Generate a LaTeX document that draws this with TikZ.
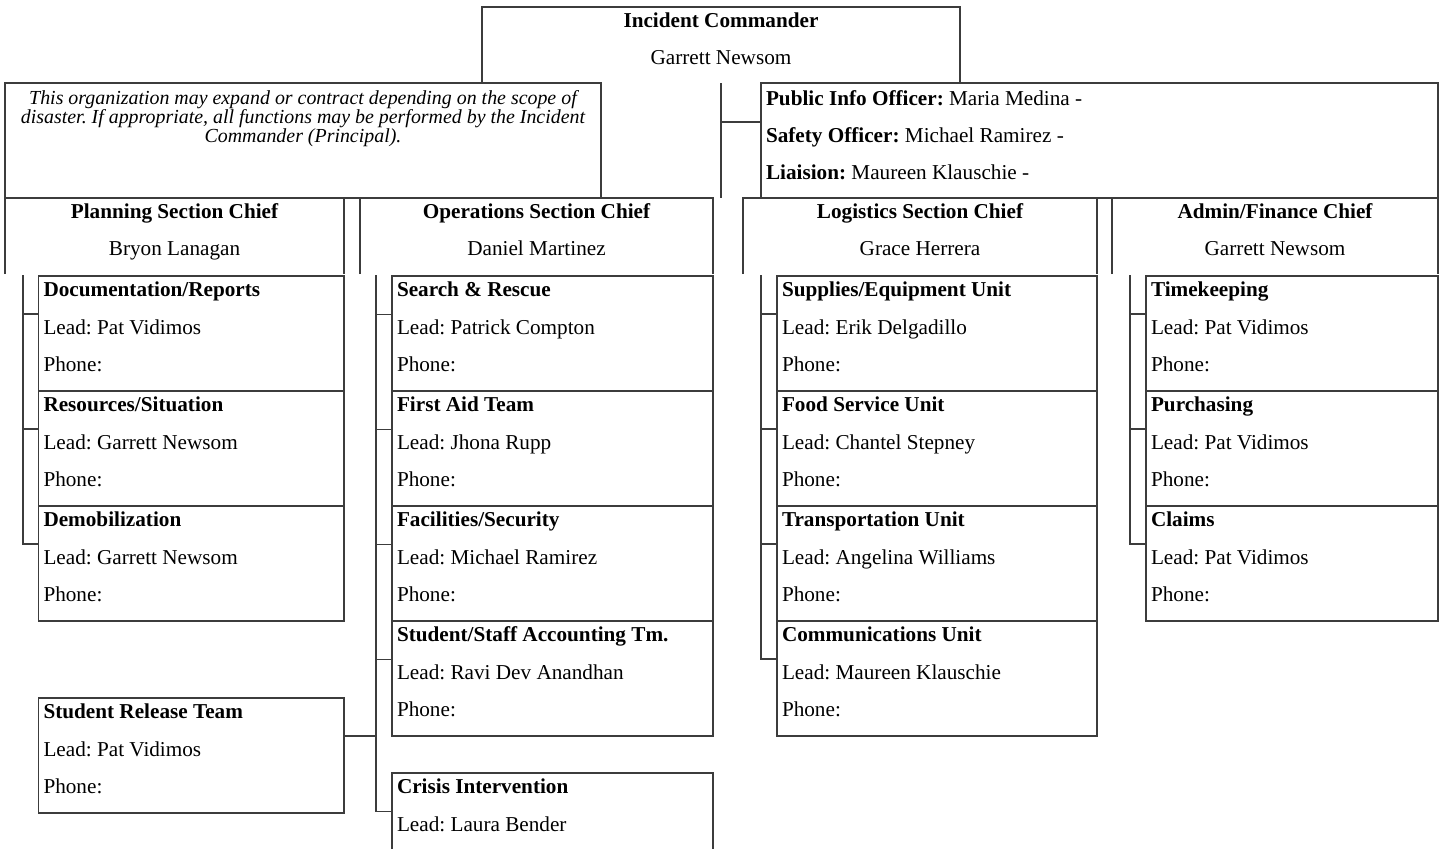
\documentclass[tikz,border=0pt]{standalone}
\usepackage{fontspec}
\setmainfont{Liberation Serif}
\usetikzlibrary{calc,fit}
\definecolor{lnc}{RGB}{60,60,60}
\frenchspacing
\newcommand\mainsz{\fontsize{10.6pt}{12pt}\selectfont}
\newcommand\notesz{\fontsize{9.95pt}{11pt}\selectfont}
% unit box: name, x1, y1, x2, title, lead
\newcommand\orgunit[6]{%
  \node[ln, inner sep=0pt, fit={(#2,#3) (#4,#3+115)}] (#1) {};
  \node[tl, font=\mainsz\bfseries] (#1-t) at ($(#1.north west)+(5,20)$) {#5};
  \node[tl] (#1-l) at ($(#1.north west)+(5,58)$) {#6};
  \node[tl] (#1-p) at ($(#1.north west)+(5,95.5)$) {Phone:};
}
% chief box with open bottom: name, x1, x2, title, person
\newcommand\chiefbox[5]{%
  \node[inner sep=0pt, fit={(#2,198) (#3,274)}] (#1) {};
  \draw[ln] (#1.south west) |- (#1.north east) -- (#1.south east);
  \node[tc, font=\mainsz\bfseries] (#1-t) at ($(#1.north)+(0,20.5)$) {#4};
  \node[tc] (#1-n) at ($(#1.north)+(0,57.5)$) {#5};
}
\begin{document}
\begin{tikzpicture}[x=0.5pt,y=-0.5pt,
  every node/.style={outer sep=0pt},
  ln/.style={draw=lnc, line width=0.8pt},
  tl/.style={inner sep=0pt, anchor=base west, font=\mainsz},
  tc/.style={inner sep=0pt, anchor=base, font=\mainsz},
  nt/.style={inner sep=0pt, anchor=base, font=\notesz\itshape}]
\clip (0,0) rectangle (1445,848);

% Incident commander (open bottom)
\node[inner sep=0pt, fit={(482,7) (960,83)}] (ic) {};
\draw[ln] (ic.south west) |- (ic.north east) -- (ic.south east);
\node[tc, font=\mainsz\bfseries] (ic-t) at ($(ic.north)+(0,20)$) {Incident Commander};
\node[tc] (ic-n) at ($(ic.north)+(0,57)$) {Garrett Newsom};

% Note box
\node[ln, inner sep=0pt, fit={(5,83) (601,198)}] (note) {};
\node[nt] (note-1) at ($(note.north)+(0,21.5)$) {This organization may expand or contract depending on the scope of};
\node[nt] (note-2) at ($(note.north)+(0,40.5)$) {disaster. If appropriate, all functions may be performed by the Incident};
\node[nt] (note-3) at ($(note.north)+(0,59.5)$) {Commander (Principal).};

% Officers box
\node[ln, inner sep=0pt, fit={(761,83) (1438,198)}] (off) {};
\node[tl] (off-1) at ($(off.north west)+(5,22)$) {\textbf{Public Info Officer:} Maria Medina -};
\node[tl] (off-2) at ($(off.north west)+(5,59)$) {\textbf{Safety Officer:} Michael Ramirez -};
\node[tl] (off-3) at ($(off.north west)+(5,96)$) {\textbf{Liaision:} Maureen Klauschie -};

% IC connectors
\coordinate (offtick) at ($(off.north west)+(0,39)$);
\draw[ln] (ic.south) -- (ic.south |- off.south);
\draw[ln] (ic.south |- offtick) -- (offtick);

% Section chiefs
\chiefbox{plan}{5}{344}{Planning Section Chief}{Bryon Lanagan}
\chiefbox{ops}{360}{713}{Operations Section Chief}{Daniel Martinez}
\chiefbox{log}{743}{1097}{Logistics Section Chief}{Grace Herrera}
\chiefbox{adm}{1112}{1438}{Admin/Finance Chief}{Garrett Newsom}

% Planning units
\orgunit{doc}{38.5}{276}{344}{Documentation/Reports}{Lead: Pat Vidimos}
\orgunit{res}{38.5}{391}{344}{Resources/Situation}{Lead: Garrett Newsom}
\orgunit{dem}{38.5}{506}{344}{Demobilization}{Lead: Garrett Newsom}
\orgunit{srt}{38.5}{698}{344}{Student Release Team}{Lead: Pat Vidimos}

% Operations units
\orgunit{sar}{392}{276}{713}{Search \& Rescue}{Lead: Patrick Compton}
\orgunit{fat}{392}{391}{713}{First Aid Team}{Lead: Jhona Rupp}
\orgunit{fac}{392}{506}{713}{Facilities/Security}{Lead: Michael Ramirez}
\orgunit{ssa}{392}{621}{713}{Student/Staff Accounting Tm.}{Lead: Ravi Dev Anandhan}
\node[inner sep=0pt, fit={(392,773) (713,888)}] (cri) {};
\draw[ln] (cri.south west) |- (cri.north east) -- (cri.south east);
\node[tl, font=\mainsz\bfseries] (cri-t) at ($(cri.north west)+(5,20)$) {Crisis Intervention};
\node[tl] (cri-l) at ($(cri.north west)+(5,58)$) {Lead: Laura Bender};

% Logistics units
\orgunit{sup}{777}{276}{1097}{Supplies/Equipment Unit}{Lead: Erik Delgadillo}
\orgunit{food}{777}{391}{1097}{Food Service Unit}{Lead: Chantel Stepney}
\orgunit{tra}{777}{506}{1097}{Transportation Unit}{Lead: Angelina Williams}
\orgunit{com}{777}{621}{1097}{Communications Unit}{Lead: Maureen Klauschie}

% Admin units
\orgunit{tim}{1146}{276}{1438}{Timekeeping}{Lead: Pat Vidimos}
\orgunit{pur}{1146}{391}{1438}{Purchasing}{Lead: Pat Vidimos}
\orgunit{cla}{1146}{506}{1438}{Claims}{Lead: Pat Vidimos}

% Buses
\coordinate (planbus) at ($(plan.south west)+(18,1)$);
\coordinate (opsbus) at ($(ops.south west)+(16,1)$);
\coordinate (logbus) at ($(log.south west)+(18,1)$);
\coordinate (admbus) at ($(adm.south west)+(18,1)$);

\foreach \c in {doc,res,dem}
  \draw[ln] (planbus) |- ($(\c.north west)+(0,38)$);
\foreach \c in {sar,fat,fac,ssa,cri}
  \draw[ln] (opsbus) |- ($(\c.north west)+(0,38.5)$);
\draw[ln] (opsbus) |- ($(srt.north east)+(0,38)$);
\foreach \c in {sup,food,tra,com}
  \draw[ln] (logbus) |- ($(\c.north west)+(0,38)$);
\foreach \c in {tim,pur,cla}
  \draw[ln] (admbus) |- ($(\c.north west)+(0,38)$);
\end{tikzpicture}
\end{document}
